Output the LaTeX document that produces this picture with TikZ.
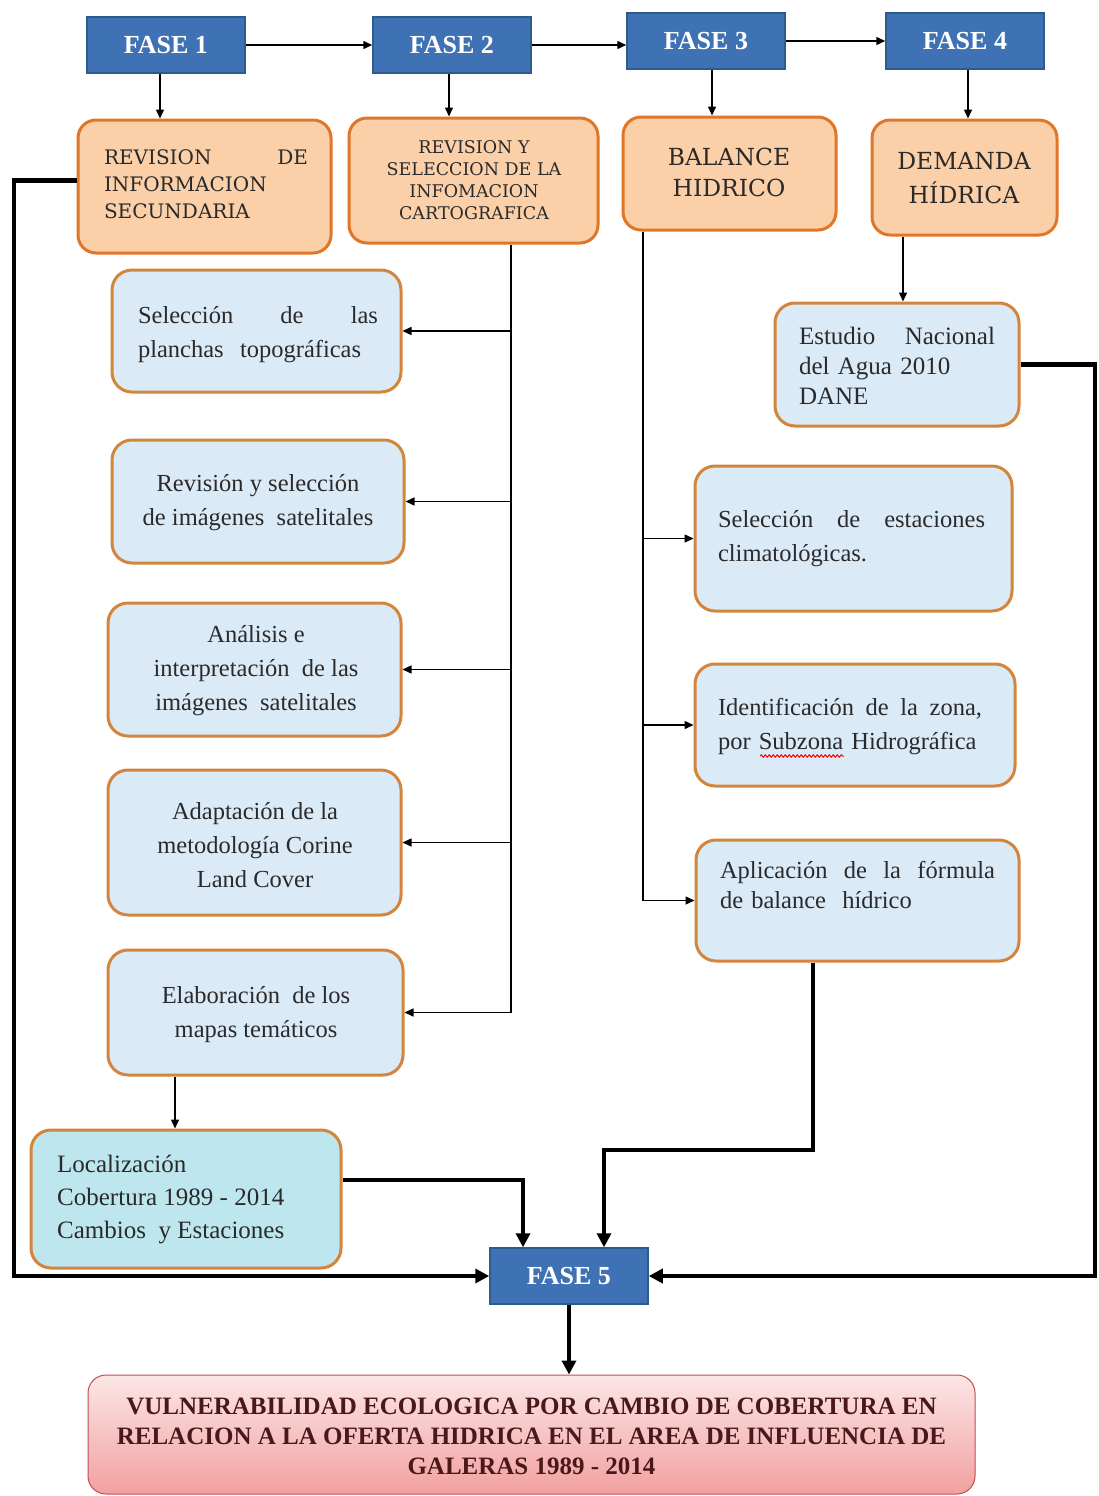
\documentclass[tikz,border=0pt]{standalone}
\usepackage{fontspec}
\setmainfont{Liberation Serif}
\newfontfamily\capsf{DejaVu Serif}
\usetikzlibrary{arrows.meta,decorations.pathmorphing}
\definecolor{faseblue}{HTML}{3F72B4}
\definecolor{fasebord}{HTML}{2E5A8C}
\definecolor{peach}{HTML}{FBD0A8}
\definecolor{orangeb}{HTML}{E07628}
\definecolor{lblue}{HTML}{DBEAF7}
\definecolor{bbord}{HTML}{D4853C}
\definecolor{cyanf}{HTML}{BEE6EF}
\definecolor{pinktop}{HTML}{FCE6E6}
\definecolor{pinkbot}{HTML}{F2A0A0}
\definecolor{pinkbord}{HTML}{C0504D}
\definecolor{maroon}{HTML}{4A1818}
\definecolor{ink}{HTML}{2A2A2A}
\begin{document}
\begin{tikzpicture}[x=1pt,y=-1pt,
 fase/.style={draw=fasebord,fill=faseblue,line width=1.5pt,text=white,font=\fontsize{26}{28}\selectfont\bfseries,minimum width=158pt,minimum height=56pt,inner sep=0pt},
 obox/.style={draw=orangeb,fill=peach,line width=3pt,rounded corners=18pt,inner sep=0pt},
 bbox/.style={draw=bbord,fill=lblue,line width=3pt,rounded corners=20pt,inner sep=0pt},
 btxt/.style={font=\fontsize{24.5}{34}\selectfont,text=ink,inner sep=0pt},
 ctxt/.style={font=\capsf\fontsize{20}{27}\selectfont,text=ink,inner sep=0pt,align=center},
 arr/.style={line width=1.5pt,-{Triangle[length=9pt,width=8pt]}},
 bigarr/.style={line width=4.5pt,-{Triangle[length=14pt,width=14pt]}}
]
\useasboundingbox (0,0) rectangle (1099,1496);
\fill[white] (0,0) rectangle (1099,1496);

% FASE boxes
\node[fase] (f1) at (166,45) {FASE 1};
\node[fase] (f2) at (452,45) {FASE 2};
\node[fase] (f3) at (706,41) {FASE 3};
\node[fase] (f4) at (965,41) {FASE 4};
\node[fase] (f5) at (569,1276) {FASE 5};

% orange boxes
\node[obox,minimum width=253pt,minimum height=133pt] (rev1) at (204.5,186.5) {};
\node[ctxt,text width=204pt,align=left] (rev1t) at (206,184) {\hbox to 204pt{REVISION\hfill DE}\\INFORMACION\\SECUNDARIA};
\node[obox,minimum width=249pt,minimum height=125pt] (rev2) at (473.5,180.5) {};
\node[ctxt,font=\capsf\fontsize{17.5}{22}\selectfont] (rev2t) at (474,180) {REVISION Y\\SELECCION DE LA\\INFOMACION\\CARTOGRAFICA};
\node[obox,minimum width=213pt,minimum height=113pt] (bal) at (729.5,173.5) {};
\node[ctxt,font=\capsf\fontsize{23.5}{31}\selectfont] (balt) at (729,172) {BALANCE\\HIDRICO};
\node[obox,minimum width=185pt,minimum height=115pt] (dem) at (964.5,177.5) {};
\node[ctxt,font=\capsf\fontsize{23.5}{34}\selectfont] (demt) at (964,178) {DEMANDA\\HÍDRICA};

% left column blue boxes
\node[bbox,minimum width=289pt,minimum height=122pt] (plan) at (256.5,331) {};
\node[btxt,text width=240pt,align=left] (plant) at (258,335) {\hbox to 240pt{Selección\hfill de\hfill las}\\planchas\ \ topográficas};
\node[bbox,minimum width=292pt,minimum height=123pt] (img) at (258,501.5) {};
\node[btxt,align=center] (imgt) at (258,503) {Revisión y selección\\de imágenes\ \ satelitales};
\node[bbox,minimum width=293pt,minimum height=133pt] (ana) at (254.5,669.5) {};
\node[btxt,align=center] (anat) at (256,671) {Análisis e\\interpretación\ \ de las\\imágenes\ \ satelitales};
\node[bbox,minimum width=293pt,minimum height=145pt] (ada) at (254.5,842.5) {};
\node[btxt,align=center] (adat) at (255,845) {Adaptación de la\\metodología Corine\\Land Cover};
\node[bbox,minimum width=295pt,minimum height=125pt] (elab) at (255.5,1012.5) {};
\node[btxt,align=center] (elabt) at (256,1015) {Elaboración\ \ de los\\mapas temáticos};
\node[bbox,fill=cyanf,minimum width=310pt,minimum height=138pt] (loc) at (186,1199) {};
\node[btxt,align=left,anchor=west,font=\fontsize{25}{33}\selectfont] (loct) at (57,1199) {Localización\\Cobertura 1989 - 2014\\Cambios\ \ y Estaciones};

% right column blue boxes
\node[bbox,minimum width=244pt,minimum height=123pt] (est) at (897,364.5) {};
\node[btxt,text width=196pt,align=left,font=\fontsize{25}{30}\selectfont] (estt) at (897,366) {\hbox to 196pt{Estudio\hfill Nacional}\\del Agua 2010\\DANE};
\node[bbox,minimum width=317pt,minimum height=145pt] (sel) at (853.5,538.5) {};
\node[btxt,text width=267pt,align=left] (selt) at (851.5,539) {\hbox to 267pt{Selección\hfill de\hfill estaciones}\\climatológicas.};
\node[bbox,minimum width=320pt,minimum height=122pt] (ide) at (855,725) {};
\node[btxt,text width=264pt,align=left] (idet) at (850,727) {\hbox to 264pt{Identificación\hfill de\hfill la\hfill zona,}\\por Subzona Hidrográfica};
\draw[red,line width=1pt,decorate,decoration={snake,amplitude=1.2pt,segment length=4pt}] (760,756) -- (844,756);
\node[bbox,minimum width=323pt,minimum height=121pt] (apl) at (857.5,900.5) {};
\node[btxt,text width=275pt,align=left,font=\fontsize{24.5}{30}\selectfont] (aplt) at (857.5,885) {\hbox to 275pt{Aplicación\hfill de\hfill la\hfill fórmula}\\de balance\ \ hídrico};

% final box
\node[draw=pinkbord,line width=1pt,top color=pinktop,bottom color=pinkbot,rounded corners=18pt,minimum width=887pt,minimum height=119pt,inner sep=0pt] (fin) at (531.5,1434.5) {};
\node[font=\fontsize{25}{30}\selectfont\bfseries,text=maroon,align=center,inner sep=0pt] (fint) at (531.5,1436) {VULNERABILIDAD ECOLOGICA POR CAMBIO DE COBERTURA EN\\RELACION A LA OFERTA HIDRICA EN EL AREA DE INFLUENCIA DE\\GALERAS 1989 - 2014};

% phase arrows
\draw[arr] (f1.east) -- (f2.west |- f1.east);
\draw[arr] (f2.east) -- (f3.west |- f2.east);
\draw[arr] (f3.east) -- (f4.west |- f3.east);
\draw[arr] ([xshift=-6pt]f1.south) -- ([xshift=-6pt]f1.south |- rev1.north);
\draw[arr] ([xshift=-3pt]f2.south) -- ([xshift=-3pt]f2.south |- rev2.north);
\draw[arr] ([xshift=6pt]f3.south) -- ([xshift=6pt]f3.south |- bal.north);
\draw[arr] ([xshift=3pt]f4.south) -- ([xshift=3pt]f4.south |- dem.north);
\draw[arr] ([xshift=6pt]est.north |- dem.south) -- ([xshift=6pt]est.north);

% left trunk
\coordinate (T2) at (511,0);
\draw[arr] (rev2.south -| T2) |- (elab.east);
\draw[arr] (plan.east -| T2) -- (plan.east);
\draw[arr] (img.east -| T2) -- (img.east);
\draw[arr] (ana.east -| T2) -- (ana.east);
\draw[arr] (ada.east -| T2) -- (ada.east);
\coordinate (E5) at (175,0);
\draw[arr] (elab.south -| E5) -- (loc.north -| E5);

% right trunk
\coordinate (T3) at (643,0);
\draw[arr] (bal.south -| T3) |- (apl.west);
\draw[arr] (sel.west -| T3) -- (sel.west);
\draw[arr] (ide.west -| T3) -- (ide.west);

% thick connectors to FASE 5
\coordinate (L) at (14,0);
\draw[bigarr] ([yshift=6pt]rev1.west) -- ([yshift=6pt]rev1.west -| L) |- (f5.west);
\coordinate (A) at (523,0);
\draw[bigarr] ([yshift=19pt]loc.east) -| (f5.north -| A);
\coordinate (C) at (813,0);
\coordinate (B) at (604,1150);
\draw[bigarr] (apl.south -| C) |- (B) -- (f5.north -| B);
\coordinate (R) at (1095,0);
\draw[bigarr] (est.east) -- (est.east -| R) |- (f5.east);
\draw[bigarr] (f5.south) -- (f5.south |- fin.north);
\end{tikzpicture}
\end{document}
